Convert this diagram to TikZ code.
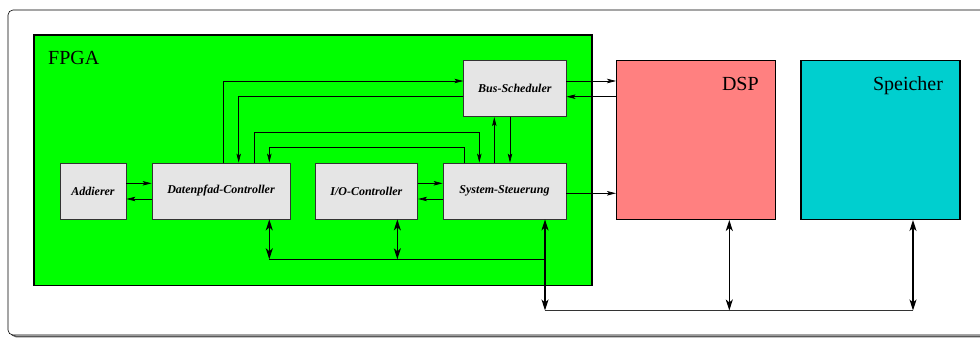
\documentclass[tikz,border=0pt]{standalone}
\usepackage{fontspec}
\setmainfont{Liberation Serif}
\usepackage{tikz}
\usetikzlibrary{arrows.meta,positioning,calc}
\definecolor{fpgagreen}{RGB}{0,255,0}
\definecolor{dspred}{RGB}{255,128,128}
\definecolor{memcyan}{RGB}{0,207,207}
\definecolor{boxgray}{RGB}{229,229,229}
\tikzset{
  blk/.style={draw=black!80,fill=boxgray,line width=0.8pt,minimum height=56pt,inner sep=0pt,font=\fontsize{12}{14}\selectfont\bfseries\itshape},
  unit/.style={draw=black,line width=1.4pt,fill=#1,inner sep=0pt},
  lbl/.style={inner sep=0pt,font=\fontsize{20}{22}\selectfont},
  arr/.style={-{Stealth[length=9pt,width=4.5pt,inset=2pt]},line width=0.7pt},
  bidir/.style={{Stealth[length=11pt,width=7pt,inset=3pt]}-{Stealth[length=11pt,width=7pt,inset=3pt]},line width=1.6pt},
}

\begin{document}
\begin{tikzpicture}[x=1pt,y=-1pt]
 \useasboundingbox (0,0) rectangle (980,339);
 \clip (0,0) rectangle (980,339);
 % frame with shadow
 \draw[black!65,line width=1.5pt,rounded corners=5pt] (11,13) rectangle (996,336.5);
 \draw[fill=white,line width=0.6pt,rounded corners=5pt] (8,10) rectangle (993,335);
 % units
 \node[unit=fpgagreen,minimum width=558pt,minimum height=250.7pt] (fpga) at (313,160.35){};
 \node[unit=dspred,minimum width=159pt,minimum height=158.6pt] (dsp) at (696.2,140){};
 \node[unit=memcyan,minimum width=159pt,minimum height=158.6pt] (mem) at (880.5,140){};
 \node[lbl,anchor=base west] at ($(fpga.north west)+(14.7,30.5)$){FPGA};
 \node[lbl,anchor=base east] at ($(dsp.north east)+(-17.5,31)$){DSP};
 \node[lbl,anchor=base east] at ($(mem.north east)+(-17.5,31)$){Speicher};
 % blocks
 \node[blk,minimum width=66pt] (add) at (93,191){Addierer};
 \node[blk,minimum width=138pt] (dpc) at (221,191){Datenpfad-Controller};
 \node[blk,minimum width=102.7pt] (ioc) at (366.35,191){I/O-Controller};
 \node[blk,minimum width=123pt] (sys) at (504.5,191){System-Steuerung};
 \node[blk,minimum width=102.3pt] (bus) at (514.9,88.7){Bus-Scheduler};
 % horizontal links
 \draw[arr]($(add.east)+(0,-7.7)$) -- ($(dpc.west)+(0,-7.7)$);
 \draw[arr]($(dpc.west)+(0,8)$) -- ($(add.east)+(0,8)$);
 \draw[arr]($(ioc.east)+(0,-7.7)$) -- ($(sys.west)+(0,-7.7)$);
 \draw[arr]($(sys.west)+(0,8)$) -- ($(ioc.east)+(0,8)$);
 \draw[arr]($(sys.east)+(0,2.3)$) -- ($(sys.east -| dsp.west)+(0,2.3)$);
 \draw[arr]($(bus.east)+(0,-7.7)$) -- ($(bus.east -| dsp.west)+(0,-7.7)$);
 \draw[arr]($(bus.east -| dsp.west)+(0,8)$) -- ($(bus.east)+(0,8)$);
 % links over the blocks
 \draw[arr]($(dpc.north)+(2.3,0)$) |- ($(bus.west)+(0,-7.7)$);
 \draw[arr]($(bus.west)+(0,8)$) -| ($(dpc.north)+(17.7,0)$);
 \draw[arr]($(dpc.north)+(33,0)$) -- ++(0,-30.7) -| ($(sys.north)+(-25.2,0)$);
 \draw[arr]($(sys.north)+(-40.5,0)$) -- ++(0,-15.3) -| ($(dpc.north)+(48.3,0)$);
 \coordinate (u1) at ($(sys.north)+(-10.2,0)$);
 \coordinate (d1) at ($(bus.south)+(-4.9,0)$);
 \draw[arr](u1) -- (u1 |- bus.south);
 \draw[arr](d1) -- (d1 |- sys.north);
 % buses
 \coordinate (ibus) at (0,259.3);
 \coordinate (xbus) at (0,310.5);
 \coordinate (p1) at ($(dpc.south)+(48.3,0)$);
 \coordinate (p2) at ($(ioc.south)+(31,0)$);
 \coordinate (p3) at ($(sys.south)+(40.5,0)$);
 \coordinate (p4) at ($(dsp.south)+(33.1,0)$);
 \coordinate (p5) at ($(mem.south)+(32.5,0)$);
 \draw[line width=0.7pt](p1 |- ibus) -- (p3 |- ibus);
 \draw[black!80,line width=1.4pt](p3 |- xbus) -- (p5 |- xbus);
 \draw[bidir](p1) -- (p1 |- ibus);
 \draw[bidir](p2) -- (p2 |- ibus);
 \draw[bidir](p3) -- (p3 |- xbus);
 \draw[bidir](p4) -- (p4 |- xbus);
 \draw[bidir](p5) -- (p5 |- xbus);
\end{tikzpicture}
\end{document}
